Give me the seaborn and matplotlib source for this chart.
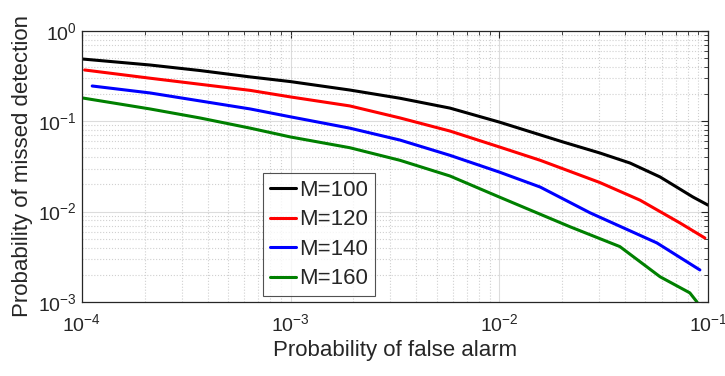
import numpy as np
import pandas as pd
import matplotlib
matplotlib.use('Agg')
import matplotlib.pyplot as plt
import seaborn as sns
from matplotlib.ticker import LogLocator, NullFormatter

# curve data (false alarm prob, missed detection prob)
pfa_100 = [1e-4, 2.12e-4, 3.67e-4, 6.4e-4, 1e-3, 1.92e-3, 3.34e-3, 5.8e-3, 1e-2,
           0.0202, 0.0303, 0.0423, 0.0589, 0.0847, 0.1]
pmd_100 = [0.49, 0.42, 0.365, 0.31, 0.275, 0.222, 0.18, 0.14, 0.098,
           0.059, 0.0446, 0.0345, 0.0242, 0.0145, 0.0118]

pfa_120 = [1.03e-4, 2.12e-4, 6.4e-4, 1e-3, 1.92e-3, 3.34e-3, 5.8e-3, 1e-2,
           0.0157, 0.0303, 0.0472, 0.0733, 0.0966]
pmd_120 = [0.37, 0.30, 0.22, 0.186, 0.148, 0.109, 0.078, 0.052,
           0.037, 0.021, 0.0134, 0.0075, 0.0051]

pfa_140 = [1.12e-4, 2.12e-4, 6.4e-4, 1e-3, 1.92e-3, 3.34e-3, 5.8e-3, 1e-2,
           0.0157, 0.0272, 0.0569, 0.0914]
pmd_140 = [0.246, 0.206, 0.137, 0.112, 0.084, 0.062, 0.042, 0.0274,
           0.0187, 0.0097, 0.0045, 0.00226]

pfa_160 = [1.01e-4, 2.12e-4, 3.67e-4, 6.4e-4, 1e-3, 1.92e-3, 3.34e-3, 5.8e-3,
           1e-2, 0.0218, 0.0378, 0.0589, 0.0818, 0.0885]
pmd_160 = [0.181, 0.137, 0.109, 0.084, 0.067, 0.051, 0.037, 0.0248,
           0.0145, 0.0068, 0.0041, 0.0019, 0.00126, 0.001]

labels = ['M=100', 'M=120', 'M=140', 'M=160']
colors = ['#000000', '#ff0000', '#0000ff', '#008000']

frames = []
for lab, x, y in zip(labels, [pfa_100, pfa_120, pfa_140, pfa_160],
                     [pmd_100, pmd_120, pmd_140, pmd_160]):
    frames.append(pd.DataFrame({'pfa': x, 'pmd': y, 'M': lab}))
df = pd.concat(frames, ignore_index=True)

sns.set_style('white')
plt.rcParams['font.family'] = ['Liberation Sans', 'DejaVu Sans']
plt.rcParams['mathtext.default'] = 'regular'

fig = plt.figure(figsize=(7.25, 3.76), dpi=100)
ax = fig.add_axes([0.113, 0.197, 0.8636, 0.7206])

sns.lineplot(data=df, x='pfa', y='pmd', hue='M', palette=colors,
             linewidth=2.2, sort=False, estimator=None, ax=ax)

ax.set_xscale('log')
ax.set_yscale('log')
ax.set_xlim(1e-4, 1e-1)
ax.set_ylim(1e-3, 1e0)

ax.xaxis.set_major_locator(LogLocator(base=10, numticks=10))
ax.yaxis.set_major_locator(LogLocator(base=10, numticks=10))
ax.xaxis.set_minor_locator(LogLocator(base=10, subs=np.arange(2, 10), numticks=20))
ax.yaxis.set_minor_locator(LogLocator(base=10, subs=np.arange(2, 10), numticks=20))
ax.xaxis.set_minor_formatter(NullFormatter())
ax.yaxis.set_minor_formatter(NullFormatter())

ax.grid(True, which='major', color='#dcdcdc', linestyle='-', linewidth=0.8)
ax.grid(True, which='minor', color='#d0d0d0', linestyle=':', linewidth=0.8)

ax.tick_params(which='both', direction='in', top=True, right=True,
               colors='#262626', labelsize=14)
ax.tick_params(which='major', length=5, width=0.8)
ax.tick_params(which='minor', length=3, width=0.6)
ax.tick_params(axis='x', pad=8)
for s in ax.spines.values():
    s.set_color('#262626')
    s.set_linewidth(0.9)

ax.set_xlabel('Probability of false alarm', fontsize=16, color='#262626')
ax.set_ylabel('Probability of missed detection', fontsize=16, color='#262626')

leg = ax.legend(loc='lower left', bbox_to_anchor=(0.289, 0.022), fontsize=16,
                frameon=True, fancybox=False, handlelength=1.2, handletextpad=0.15,
                borderpad=0.3, labelspacing=0.38, borderaxespad=0)
leg.get_frame().set_edgecolor('#262626')
leg.get_frame().set_linewidth(0.8)
for line in leg.get_lines():
    line.set_linewidth(2.2)

fig.savefig('out.png', dpi=100)
